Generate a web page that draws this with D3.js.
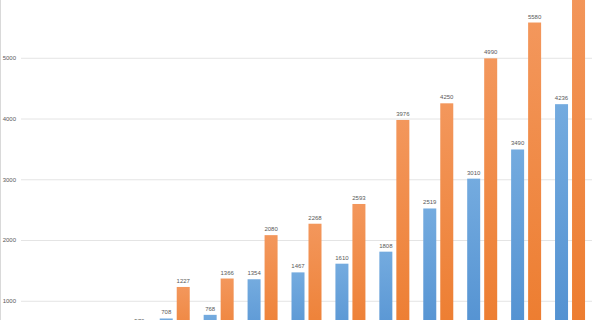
<!DOCTYPE html>
<html>
<head>
<meta charset="utf-8">
<script src="https://cdn.jsdelivr.net/npm/d3@7"></script>
<style>
  html, body { margin: 0; padding: 0; background: #fff; overflow: hidden; }
  svg { display: block; font-family: "Liberation Sans", Arial, sans-serif; }
</style>
</head>
<body>
<div id="chart"></div>
<script>
// Values (first groups sit below the visible crop)
const categories = ["c1", "c2", "c3", "c4", "c5", "c6", "c7", "c8", "c9", "c10", "c11", "c12", "c13"];
const blueValues = [180, 260, 350, 708, 768, 1354, 1467, 1610, 1808, 2519, 3010, 3490, 4236];
const orangeValues = [310, 420, 570, 1227, 1366, 2080, 2268, 2593, 3976, 4250, 4990, 5580, 6300];
const yTicks = [1000, 2000, 3000, 4000, 5000];

const W = 600, H = 320;
// the crop cuts the chart: the zero line sits below the window
const plot = {left: 21, right: 592, top: -3, bottom: 361.5};

const svg = d3.select("#chart").append("svg")
    .attr("width", W)
    .attr("height", H);

const defs = svg.append("defs");
function grad(id, top, bottom) {
  const g = defs.append("linearGradient").attr("id", id)
      .attr("x1", 0).attr("y1", 0).attr("x2", 0).attr("y2", 1);
  g.append("stop").attr("offset", "0%").attr("stop-color", top);
  g.append("stop").attr("offset", "100%").attr("stop-color", bottom);
}
grad("gBlue", "#74abdf", "#4d8dcf");
grad("gOrange", "#f3975c", "#ec7a2b");

// chart border on the left
svg.append("line")
    .attr("x1", 0.5).attr("x2", 0.5)
    .attr("y1", 0).attr("y2", H)
    .attr("stroke", "#d9d9d9");

const x = d3.scaleBand().domain(categories)
    .range([plot.left, plot.right])
    .paddingInner(0.317).paddingOuter(0.1585);
const xSub = d3.scaleBand().domain(["blue", "orange"])
    .range([0, x.bandwidth()])
    .paddingInner(0.235);
const y = d3.scaleLinear().domain([0, 6000]).range([plot.bottom, plot.top]);

// gridlines + tick labels
const yAxis = d3.axisLeft(y).tickValues(yTicks)
    .tickSize(-(plot.right - plot.left))
    .tickPadding(5)
    .tickFormat(d3.format("d"));
const gy = svg.append("g")
    .attr("transform", "translate(" + plot.left + ",0)")
    .call(yAxis);
gy.select(".domain").remove();
gy.selectAll(".tick line").attr("stroke", "#e4e4e4").attr("stroke-width", 1);
gy.selectAll(".tick text")
    .attr("fill", "#595959")
    .style("font-size", "6px")
    .style("font-family", "Liberation Sans, Arial, sans-serif");

const series = [
  {key: "blue", values: blueValues, fill: "url(#gBlue)"},
  {key: "orange", values: orangeValues, fill: "url(#gOrange)"}
];

series.forEach(function (s) {
  const g = svg.append("g");
  const data = categories.map((c, i) => ({cat: c, value: s.values[i]}));

  g.selectAll("rect")
      .data(data).enter()
      .append("rect")
      .attr("x", d => x(d.cat) + xSub(s.key))
      .attr("width", xSub.bandwidth())
      .attr("y", d => y(d.value))
      .attr("height", d => y(0) - y(d.value))
      .attr("fill", s.fill);

  // only the labels that fall inside the cropped window
  g.selectAll("text")
      .data(data.filter(d => y(d.value) - 4 > 6 && y(d.value) - 4 < H + 4)).enter()
      .append("text")
      .text(d => d.value)
      .attr("x", d => x(d.cat) + xSub(s.key) + xSub.bandwidth() / 2)
      .attr("y", d => y(d.value) - 4)
      .attr("text-anchor", "middle")
      .attr("fill", "#595959")
      .style("font-size", "6px");
});
</script>
</body>
</html>
